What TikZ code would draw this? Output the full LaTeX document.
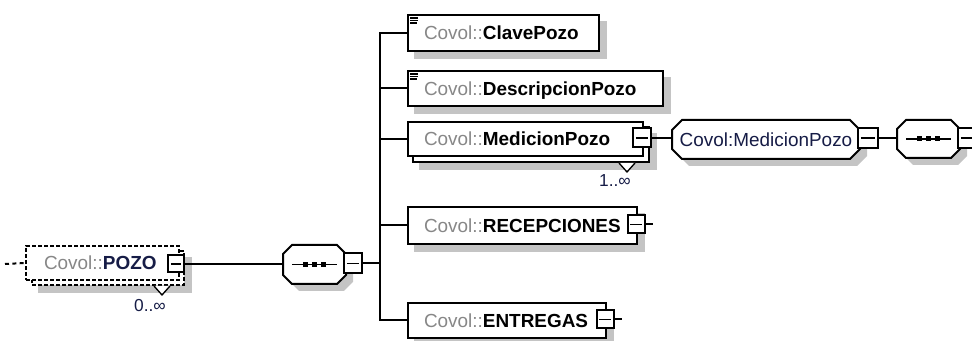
\documentclass[tikz,border=0pt]{standalone}
\usepackage{fontspec}
\setmainfont{Liberation Sans}
\usetikzlibrary{calc,backgrounds}
\definecolor{pregray}{RGB}{135,135,135}
\definecolor{nmnavy}{RGB}{22,28,70}
\definecolor{shad}{RGB}{196,196,196}
\newcommand\covtxt[2][black]{{\color{pregray}Covol::}{\bfseries\color{#1}#2}}
\newcommand\myoct[3]{($(#1.north west)+(#2+#3,#3)$) -- ($(#1.north east)+(-#2+#3,#3)$) -- ($(#1.north east)+(#3,#2+#3)$) -- ($(#1.south east)+(#3,-#2+#3)$) -- ($(#1.south east)+(-#2+#3,#3)$) -- ($(#1.south west)+(#2+#3,#3)$) -- ($(#1.south west)+(#3,-#2+#3)$) -- ($(#1.north west)+(#3,#2+#3)$) -- cycle}
\begin{document}
\begin{tikzpicture}[x=0.75pt,y=-0.75pt,line width=1.5pt,
  every node/.style={inner sep=0pt,font=\fontsize{14.2pt}{17pt}\selectfont},
  elbox/.style={draw,fill=white,anchor=north west,line width=1.5pt},
  dashbox/.style={elbox,dash pattern=on 3pt off 1.5pt,line width=1.5pt},
  octn/.style={anchor=north west},
  octtxt/.style={text=nmnavy,text height=10.2pt,text depth=0pt},
  mbox/.style={draw,fill=white,minimum width=13pt,minimum height=14pt,line width=1.5pt,
    path picture={\draw[line width=1.2pt] ([xshift=2.2pt]path picture bounding box.west) -- ([xshift=-2.2pt]path picture bounding box.east);}},
  lbl/.style={anchor=west,text height=10.2pt,text depth=0pt},
  mult/.style={font=\fontsize{13pt}{15pt}\selectfont,text=nmnavy},
  shadowc/.style={fill=shad,draw=none},
  vmark/.style={line width=1pt}
]
\useasboundingbox (0,0) rectangle (972,341);

% root element
\node[dashbox,minimum width=114pt,minimum height=25.5pt] (pozoB) at (31,250) {};
\node[dashbox,minimum width=114.75pt,minimum height=25.5pt] (pozo) at (25,245) {};
\node[lbl] (pozoT) at ($(pozo.west)+(18,0)$) {\covtxt[nmnavy]{POZO}};
\node[mbox,minimum width=12pt,minimum height=12.75pt] (pozoM) at (176,264) {};
\coordinate (pozoIn) at (5,264);
\fill[white] ($(pozoB.south east)+(-31,0)$) -- ($(pozoB.south east)+(-23,9)$) -- ($(pozoB.south east)+(-15,0)$) -- cycle;
\draw[vmark] ($(pozoB.south east)+(-31,0)$) -- ($(pozoB.south east)+(-23,9)$) -- ($(pozoB.south east)+(-15,0)$);
\node[mult] (pozoMult) at (150,306) {0..∞};

% sequence 1
\node[octn,minimum width=45.75pt,minimum height=27.75pt] (seq1) at (283,245) {};
\draw[fill=white] \myoct{seq1}{9}{0};
\draw[line width=1.1pt] ($(seq1.west)+(9,0)$) -- ($(seq1.east)+(-9,0)$);
\foreach \d in {-9,0,9} \fill ($(seq1.center)+(\d-2.5,-2.5)$) rectangle +(5,5);
\node[mbox,minimum width=13.5pt,minimum height=15pt] (seq1M) at (353,263.5) {};
\coordinate (tr) at (380,263.5);

% children
\node[elbox,minimum width=143.25pt,minimum height=27pt] (clave) at (407,14) {};
\node[lbl] (claveT) at ($(clave.west)+(16,0)$) {\covtxt{ClavePozo}};
\node[elbox,minimum width=191.25pt,minimum height=26.25pt] (desc) at (407,70) {};
\node[lbl] (descT) at ($(desc.west)+(16,0)$) {\covtxt{DescripcionPozo}};
\foreach \n in {clave,desc}{
  \draw[line width=0.9pt] ($(\n.north west)+(3,4)$) -- +(8,0);
  \draw[line width=0.9pt] ($(\n.north west)+(3,6.5)$) -- +(8,0);
  \draw[line width=0.9pt] ($(\n.north west)+(3,9)$) -- +(7,0);
}
\node[elbox,minimum width=177pt,minimum height=26.25pt] (medB) at (412,126) {};
\node[elbox,minimum width=176.25pt,minimum height=25.5pt] (med) at (407,121) {};
\node[lbl] (medT) at ($(med.west)+(16,0)$) {\covtxt{MedicionPozo}};
\fill[white] ($(medB.south east)+(-31,0)$) -- ($(medB.south east)+(-23,9)$) -- ($(medB.south east)+(-15,0)$) -- cycle;
\draw[vmark] ($(medB.south east)+(-31,0)$) -- ($(medB.south east)+(-23,9)$) -- ($(medB.south east)+(-15,0)$);
\node[mbox,minimum width=13.5pt,minimum height=14.25pt] (medM) at (642,138) {};
\node[mult] (medMult) at (615,181) {1..∞};

% complex type
\node[octn,minimum width=139.5pt,minimum height=27.75pt] (cmp) at (672,120) {};
\draw[fill=white] \myoct{cmp}{10}{0};
\node[octtxt] (cmpT) at (cmp.center) {Covol:MedicionPozo};
\node[mbox,minimum width=15pt,minimum height=15pt] (cmpM) at (868,138) {};

% sequence 2
\node[octn,minimum width=45.75pt,minimum height=27pt] (seq2) at (897,120) {};
\draw[fill=white] \myoct{seq2}{9}{0};
\draw[line width=1.1pt] ($(seq2.west)+(9,0)$) -- ($(seq2.east)+(-9,0)$);
\foreach \d in {-9,0,9} \fill ($(seq2.center)+(\d-2.5,-2.5)$) rectangle +(5,5);
\node[mbox,minimum width=15pt,minimum height=15pt] (seq2M) at (968,138) {};

\node[elbox,minimum width=171.75pt,minimum height=27.75pt] (recep) at (407,206) {};
\node[lbl] (recepT) at ($(recep.west)+(16,0)$) {\covtxt{RECEPCIONES}};
\node[mbox,minimum width=12.75pt,minimum height=13.5pt] (recepM) at (636,224.5) {};
\coordinate (recepS) at (653,224.5);

\node[elbox,minimum width=148.5pt,minimum height=26.25pt] (entr) at (407,302) {};
\node[lbl] (entrT) at ($(entr.west)+(16,0)$) {\covtxt{ENTREGAS}};
\node[mbox,minimum width=12.75pt,minimum height=13.5pt] (entrM) at (605,319.5) {};
\coordinate (entrS) at (622,319.5);

% connectors
\draw[dash pattern=on 3pt off 2.5pt] (pozoIn) -- (pozo.west);
\draw (pozoM.east) -- (pozoM.east -| seq1.west);
\draw (seq1M.east) -- (tr);
\foreach \n in {clave,desc,med,recep,entr} \draw (tr) |- (\n.west);
\draw (medM.east) -- (medM.east -| cmp.west);
\draw (cmpM.east) -- (cmpM.east -| seq2.west);
\draw (recepM.east) -- (recepS);
\draw (entrM.east) -- (entrS);

% shadows
\begin{pgfonlayer}{background}
\foreach \n in {clave,desc,medB,recep,entr,pozoB}
  \fill[shadowc] ($(\n.north west)+(7,7)$) rectangle ($(\n.south east)+(7,7)$);
\fill[shadowc] \myoct{seq1}{9}{7};
\fill[shadowc] \myoct{cmp}{10}{7};
\fill[shadowc] \myoct{seq2}{9}{7};
\end{pgfonlayer}
\end{tikzpicture}
\end{document}
